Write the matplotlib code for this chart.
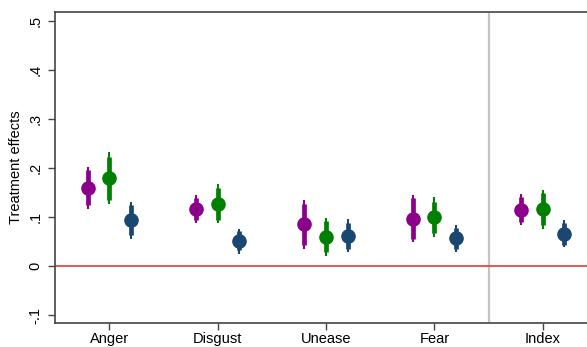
import numpy as np
import matplotlib.pyplot as plt

plt.rcParams['font.family'] = ['Liberation Sans', 'DejaVu Sans']

categories = ["Anger", "Disgust", "Unease", "Fear", "Index"]
series_colors = ["#8B008B", "#008000", "#1A476F"]

# point estimates per series (purple, green, blue)
est = [
    [0.160, 0.116, 0.085, 0.097, 0.115],
    [0.179, 0.127, 0.059, 0.100, 0.116],
    [0.093, 0.051, 0.061, 0.057, 0.065],
]
# thick (90%) intervals
lo90 = [
    [0.125, 0.093, 0.042, 0.056, 0.090],
    [0.134, 0.093, 0.029, 0.067, 0.084],
    [0.063, 0.032, 0.035, 0.035, 0.044],
]
hi90 = [
    [0.195, 0.138, 0.126, 0.138, 0.140],
    [0.223, 0.160, 0.092, 0.131, 0.148],
    [0.124, 0.071, 0.088, 0.078, 0.088],
]
# thin (95%) intervals
lo95 = [
    [0.116, 0.087, 0.035, 0.049, 0.083],
    [0.126, 0.087, 0.020, 0.059, 0.076],
    [0.056, 0.025, 0.029, 0.029, 0.038],
]
hi95 = [
    [0.202, 0.144, 0.134, 0.144, 0.146],
    [0.232, 0.168, 0.099, 0.140, 0.156],
    [0.130, 0.076, 0.095, 0.083, 0.093],
]
offsets = [-0.2, 0.0, 0.2]
yticks = [-0.1, 0, 0.1, 0.2, 0.3, 0.4, 0.5]
ytick_labels = ["-.1", "0", ".1", ".2", ".3", ".4", ".5"]

fig = plt.figure(figsize=(5.87, 3.47), dpi=100)
# right part of the plot runs past the image edge, as in the reference
ax = fig.add_axes([55 / 587, 1 - 323 / 347, 542 / 587, 311 / 347])

x = np.arange(1, len(categories) + 1)
for i in range(3):
    xs = x + offsets[i]
    e = np.array(est[i])
    ax.vlines(xs, lo95[i], hi95[i], color=series_colors[i], lw=1.5, zorder=3)
    ax.vlines(xs, lo90[i], hi90[i], color=series_colors[i], lw=3.4, zorder=3)
    ax.plot(xs, e, 'o', color=series_colors[i], ms=9.5, zorder=4)

ax.axhline(0, color="#E8392E", lw=1.2, zorder=2)
ax.axvline(4.5, color="#C4C4C4", lw=1.6, zorder=1)

ax.set_xlim(0.5, 5.5)
ax.set_ylim(-0.116, 0.518)
ax.set_xticks(x)
ax.set_xticklabels(categories, fontsize=10.5)
ax.set_yticks(yticks)
ax.set_yticklabels(ytick_labels, fontsize=10.5, rotation=90, va='center')
ax.set_ylabel("Treatment effects", fontsize=10.5)
ax.tick_params(length=5, color="#444444", width=1, pad=4)
ax.tick_params(axis='x', pad=1.5)
for s in ax.spines.values():
    s.set_color("#444444")
    s.set_linewidth(1.2)

fig.savefig("out.png", dpi=100)
